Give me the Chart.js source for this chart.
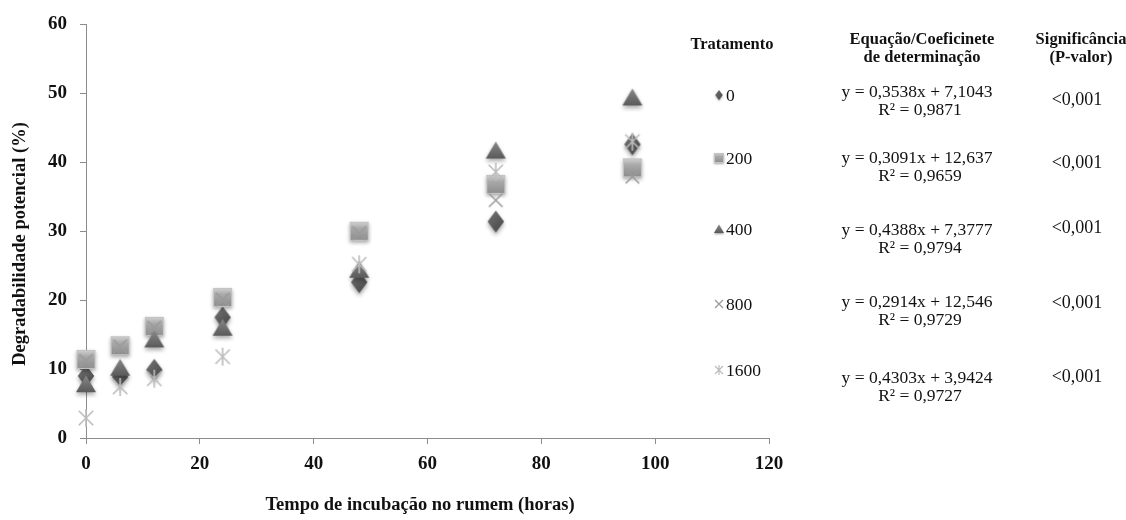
<!DOCTYPE html>
<html>
<head>
<meta charset="utf-8">
<script src="https://cdn.jsdelivr.net/npm/chart.js@4/dist/chart.umd.min.js"></script>
<style>
  html, body { margin: 0; padding: 0; background: #fff; }
</style>
</head>
<body>
<canvas id="myChart" width="1126" height="520"></canvas>
<script>
'use strict';

// Incubation times (hours) and treatments
const hours = [0, 6, 12, 24, 48, 72, 96];
const treatments = ['0', '200', '400', '800', '1600'];

// Potential degradability (%) per treatment
const deg0 = [9.0, 8.9, 9.9, 17.5, 22.6, 31.4, 42.6];
const deg200 = [11.4, 13.4, 16.2, 20.4, 30.0, 36.8, 39.2];
const deg400 = [7.8, 10.2, 14.3, 16.0, 24.4, 41.7, 49.4];
const deg800 = [11.2, 13.3, 16.0, 20.1, 29.7, 34.5, 37.9];
const deg1600 = [2.9, 7.4, 8.6, 11.8, 25.2, 38.6, 43.0];

// Regression text shown at the right
const equations = ['y = 0,3538x + 7,1043', 'y = 0,3091x + 12,637', 'y = 0,4388x + 7,3777', 'y = 0,2914x + 12,546', 'y = 0,4303x + 3,9424'];
const r2 = ['R\u00b2 = 0,9871', 'R\u00b2 = 0,9659', 'R\u00b2 = 0,9794', 'R\u00b2 = 0,9729', 'R\u00b2 = 0,9727'];
const pValues = ['<0,001', '<0,001', '<0,001', '<0,001', '<0,001'];

const SERIF = '"Liberation Serif", "Times New Roman", serif';

// Builds a little canvas marker with a soft shadow, Excel style
function makeMarker(kind, s) {
   const pad = Math.ceil(s * 0.35);
   const c = document.createElement('canvas');
   c.width = s + pad * 2;
   c.height = s + pad * 2;
   const ctx = c.getContext('2d');
   const cx = c.width / 2, cy = c.height / 2, r = s / 2;
   ctx.shadowColor = 'rgba(0,0,0,0.35)';
   ctx.shadowBlur = s * 0.2;
   ctx.shadowOffsetY = s * 0.12;
   let g;
   if (kind === 'diamond') {
      g = ctx.createLinearGradient(cx - r, cy - r, cx + r, cy + r);
      g.addColorStop(0, '#7a7a7a');
      g.addColorStop(0.5, '#5c5c5c');
      g.addColorStop(1, '#444444');
      ctx.fillStyle = g;
      ctx.beginPath();
      ctx.moveTo(cx, cy - r);
      ctx.lineTo(cx + r * 0.75, cy);
      ctx.lineTo(cx, cy + r);
      ctx.lineTo(cx - r * 0.75, cy);
      ctx.closePath();
      ctx.fill();
   } else if (kind === 'square') {
      g = ctx.createLinearGradient(0, cy - r, 0, cy + r);
      g.addColorStop(0, '#d2d2d2');
      g.addColorStop(0.35, '#a9a9a9');
      g.addColorStop(1, '#8c8c8c');
      ctx.fillStyle = g;
      ctx.fillRect(cx - r, cy - r, s, s);
      ctx.shadowColor = 'transparent';
      ctx.strokeStyle = '#c4c4c4';
      ctx.lineWidth = 1;
      ctx.strokeRect(cx - r + 0.5, cy - r + 0.5, s - 1, s - 1);
   } else if (kind === 'triangle') {
      g = ctx.createLinearGradient(0, cy - r, 0, cy + r);
      g.addColorStop(0, '#8a8a8a');
      g.addColorStop(1, '#555555');
      ctx.fillStyle = g;
      ctx.beginPath();
      ctx.moveTo(cx, cy - r * 0.9);
      ctx.lineTo(cx + r, cy + r * 0.8);
      ctx.lineTo(cx - r, cy + r * 0.8);
      ctx.closePath();
      ctx.fill();
   } else if (kind === 'x') {
      ctx.shadowBlur = 0;
      ctx.shadowOffsetY = 0;
      ctx.strokeStyle = '#9a9a9a';
      ctx.lineWidth = Math.max(1.2, s * 0.09);
      ctx.beginPath();
      ctx.moveTo(cx - r * 0.8, cy - r * 0.8);
      ctx.lineTo(cx + r * 0.8, cy + r * 0.8);
      ctx.moveTo(cx + r * 0.8, cy - r * 0.8);
      ctx.lineTo(cx - r * 0.8, cy + r * 0.8);
      ctx.stroke();
   } else if (kind === 'star') {
      ctx.shadowBlur = 0;
      ctx.shadowOffsetY = 0;
      ctx.strokeStyle = '#bcbcbc';
      ctx.lineWidth = Math.max(1.2, s * 0.09);
      ctx.beginPath();
      ctx.moveTo(cx, cy - r);
      ctx.lineTo(cx, cy + r);
      ctx.moveTo(cx - r * 0.8, cy - r * 0.8);
      ctx.lineTo(cx + r * 0.8, cy + r * 0.8);
      ctx.moveTo(cx + r * 0.8, cy - r * 0.8);
      ctx.lineTo(cx - r * 0.8, cy + r * 0.8);
      ctx.stroke();
   }
   return c;
}

const kinds = ['diamond', 'square', 'triangle', 'x', 'star'];
const sizes = [22, 19, 20, 17, 18];
const bigMarkers = kinds.map(function (k, i) { return makeMarker(k, sizes[i]); });
const smallMarkers = kinds.map(function (k) { return makeMarker(k, 10); });
const series = [deg0, deg200, deg400, deg800, deg1600];

function toPoints(arr) {
   return hours.map(function (h, i) { return { x: h, y: arr[i] }; });
}

// Right-hand table: treatment legend, equations and p-values
const tablePlugin = {
   id: 'tablePlugin',
   afterDraw: function (chart) {
      const ctx = chart.ctx;
      ctx.save();
      ctx.fillStyle = '#111';
      ctx.textBaseline = 'middle';
      ctx.textAlign = 'center';

      // axis titles
      ctx.font = 'bold 18.5px ' + SERIF;
      ctx.fillText('Tempo de incubação no rumem (horas)', 420, 505);
      ctx.save();
      ctx.translate(20, 244);
      ctx.rotate(-Math.PI / 2);
      ctx.fillText('Degradabilidade potencial (%)', 0, 0);
      ctx.restore();

      // headers
      ctx.font = 'bold 16.5px ' + SERIF;
      ctx.fillText('Tratamento', 732, 45);
      ctx.fillText('Equação/Coeficinete', 922, 40);
      ctx.fillText('de determinação', 922, 58);
      ctx.fillText('Significância', 1081, 40);
      ctx.fillText('(P-valor)', 1081, 58);

      const legendY = [95, 158, 229, 304, 370];
      const eqY = [92, 158, 230, 302, 378];
      const pY = [100, 163, 228, 303, 377];
      for (let i = 0; i < treatments.length; i++) {
         const m = smallMarkers[i];
         ctx.drawImage(m, 719 - m.width / 2, legendY[i] - m.height / 2);
         ctx.font = '17.5px ' + SERIF;
         ctx.textAlign = 'left';
         ctx.fillText(treatments[i], 726, legendY[i] + 1);
         ctx.textAlign = 'center';
         ctx.fillText(equations[i], 917, eqY[i]);
         ctx.fillText(r2[i], 920, eqY[i] + 18);
         ctx.font = '18px ' + SERIF;
         ctx.fillText(pValues[i], 1077, pY[i]);
      }
      ctx.restore();
   }
};

const ctx = document.getElementById('myChart');
const myChart = new Chart(ctx, {
   type: 'scatter',
   data: {
      datasets: series.map(function (arr, i) {
         return {
            label: treatments[i],
            data: toPoints(arr),
            pointStyle: bigMarkers[i],
            pointRadius: 10,
            clip: false,
            order: 5 - i
         };
      })
   },
   options: {
      responsive: false,
      animation: false,
      layout: { padding: { left: 0, top: 24, right: 357, bottom: 0 } },
      plugins: {
         legend: { display: false },
         tooltip: { enabled: false }
      },
      scales: {
         x: {
            type: 'linear',
            min: 0,
            max: 120,
            afterFit: function (scale) { scale.height = 82; },
            ticks: {
               stepSize: 20,
               padding: 9,
               color: '#111',
               font: { family: SERIF, size: 19, weight: 'bold' }
            },
            grid: { drawOnChartArea: false, tickLength: 6, color: '#8c8c8c' },
            border: { color: '#8c8c8c' }
         },
         y: {
            min: 0,
            max: 60,
            afterFit: function (scale) { scale.width = 86; },
            ticks: {
               stepSize: 10,
               padding: 13,
               color: '#111',
               font: { family: SERIF, size: 19, weight: 'bold' }
            },
            grid: { drawOnChartArea: false, tickLength: 6, color: '#8c8c8c' },
            border: { color: '#8c8c8c' }
         }
      }
   },
   plugins: [tablePlugin]
});
</script>
</body>
</html>
